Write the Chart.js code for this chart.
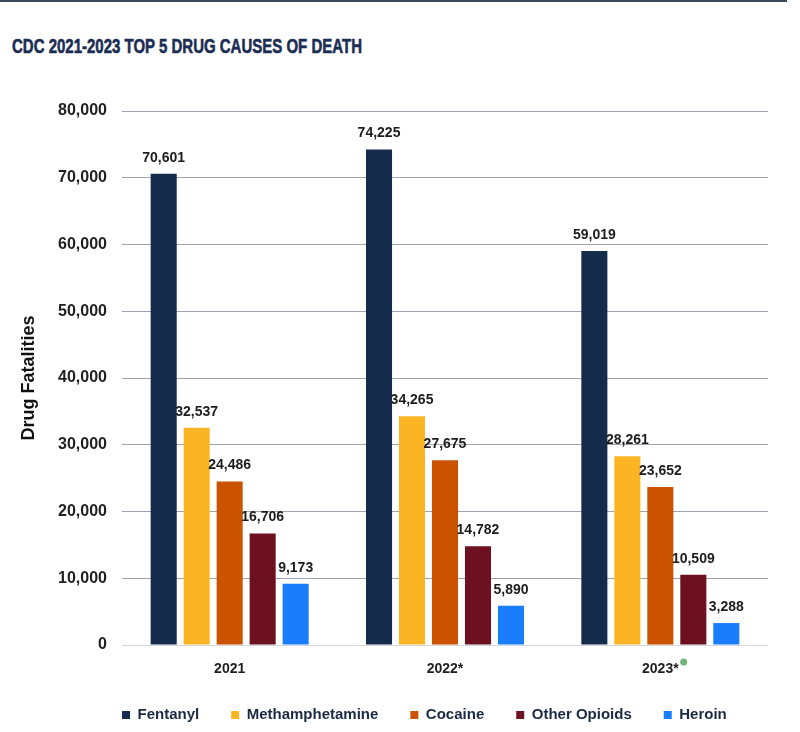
<!DOCTYPE html>
<html>
<head>
<meta charset="utf-8">
<script src="https://cdn.jsdelivr.net/npm/chart.js@4/dist/chart.umd.min.js"></script>
<style>
  body { margin: 0; background: #fff; }
  #wrap { position: relative; width: 800px; height: 732px; overflow: hidden; }
  #topline { position: absolute; left: 0; top: 0; width: 787px; height: 2px; background: #3f4b5c; }
  #title {
    position: absolute; left: 12px; top: 35px; margin: 0;
    font: bold 21px "Liberation Sans", Arial, sans-serif; line-height: 21px;
    color: #1b2d52; white-space: nowrap; transform-origin: left top;
    -webkit-text-stroke: 0.6px #1b2d52;
  }
  canvas { position: absolute; left: 0; top: 0; }
</style>
</head>
<body>
<div id="wrap">
  <div id="topline"></div>
  <h1 id="title">CDC 2021-2023 TOP 5 DRUG CAUSES OF DEATH</h1>
  <canvas id="chart" width="800" height="732"></canvas>
</div>
<script>
// categories and series
const years = ['2021', '2022*', '2023*'];
const drugNames = ['Fentanyl', 'Methamphetamine', 'Cocaine', 'Other Opioids', 'Heroin'];
const fentanyl = [70601, 74225, 59019];
const methamphetamine = [32537, 34265, 28261];
const cocaine = [24486, 27675, 23652];
const otherOpioids = [16706, 14782, 10509];
const heroin = [9173, 5890, 3288];
const drugColors = ['#142b4c', '#fbb424', '#cb5300', '#6d1120', '#1a7efc'];
const yTicks = [0, 10000, 20000, 30000, 40000, 50000, 60000, 70000, 80000];

// narrow the title like the condensed original
const titleEl = document.getElementById('title');
titleEl.style.transform = 'scaleX(' + (350 / titleEl.offsetWidth).toFixed(3) + ')';

const FONT = '"Liberation Sans", Arial, sans-serif';
const seriesValues = [fentanyl, methamphetamine, cocaine, otherOpioids, heroin];

// value labels over each bar
const barLabels = {
    id: 'barLabels',
    afterDatasetsDraw(chart) {
        const ctx = chart.ctx;
        ctx.save();
        ctx.font = 'bold 14px ' + FONT;
        ctx.fillStyle = '#1c1c1c';
        ctx.textAlign = 'center';
        ctx.textBaseline = 'bottom';
        chart.data.datasets.forEach((ds, i) => {
            chart.getDatasetMeta(i).data.forEach((bar, j) => {
                ctx.fillText(ds.data[j].toLocaleString('en-US'), bar.x, bar.y - 9);
            });
        });
        ctx.restore();
    }
};

// start the legend row at the plot's left edge
const legendShift = {
    id: 'legendShift',
    afterLayout(chart) {
        const lg = chart.legend;
        if (!lg) return;
        const dx = chart.chartArea.left - lg.options.labels.padding - lg.left;
        lg.left += dx;
        lg.right += dx;
    }
};

// small green mark after the last year label
const yearMark = {
    id: 'yearMark',
    afterDraw(chart) {
        const xs = chart.scales.x;
        const last = years.length - 1;
        const ctx = chart.ctx;
        ctx.save();
        ctx.font = 'bold 14px ' + FONT;
        const w = ctx.measureText(years[last]).width;
        const x = xs.getPixelForTick(last) + w / 2 + 5;
        const y = xs.top + 17;
        ctx.fillStyle = '#6fb37a';
        ctx.beginPath();
        ctx.arc(x, y, 3.5, 0, Math.PI * 2);
        ctx.fill();
        ctx.restore();
    }
};

new Chart(document.getElementById('chart'), {
    type: 'bar',
    data: {
        labels: years,
        datasets: drugNames.map((name, i) => ({
            label: name,
            data: seriesValues[i],
            backgroundColor: drugColors[i],
            borderWidth: 0,
            categoryPercentage: 0.766,
            barPercentage: 0.79
        }))
    },
    options: {
        responsive: false,
        animation: false,
        devicePixelRatio: 1,
        layout: { padding: { left: 8, right: 32, top: 111, bottom: 0 } },
        plugins: {
            title: { display: false },
            tooltip: { enabled: false },
            legend: {
                position: 'bottom',
                align: 'start',
                maxHeight: 56.5,
                labels: {
                    boxWidth: 8,
                    boxHeight: 8,
                    padding: 32,
                    color: '#1b2a44',
                    font: { family: FONT, size: 15, weight: 'bold' }
                }
            }
        },
        scales: {
            x: {
                grid: { display: false },
                border: { display: false },
                ticks: {
                    padding: 8,
                    color: '#1f1f1f',
                    font: { family: FONT, size: 14, weight: 'bold' }
                },
                afterFit(scale) { scale.height = 30.5; }
            },
            y: {
                min: 0,
                max: 80000,
                afterBuildTicks(scale) { scale.ticks = yTicks.map(v => ({ value: v })); },
                grid: {
                    drawTicks: false,
                    color: ctx => ctx.tick && ctx.tick.value === 0 ? '#d5d9df' : '#9ba4b0',
                    lineWidth: 1
                },
                border: { display: false },
                ticks: {
                    padding: 15,
                    color: '#1f1f1f',
                    font: { family: FONT, size: 16, weight: 'bold' },
                    callback: v => v.toLocaleString('en-US')
                },
                title: {
                    display: true,
                    text: 'Drug Fatalities',
                    color: '#111',
                    padding: { top: 10, bottom: 0 },
                    font: { family: FONT, size: 18, weight: 'bold' }
                },
                afterFit(scale) { scale.width = 114; }
            }
        }
    },
    plugins: [barLabels, legendShift, yearMark]
});
</script>
</body>
</html>
